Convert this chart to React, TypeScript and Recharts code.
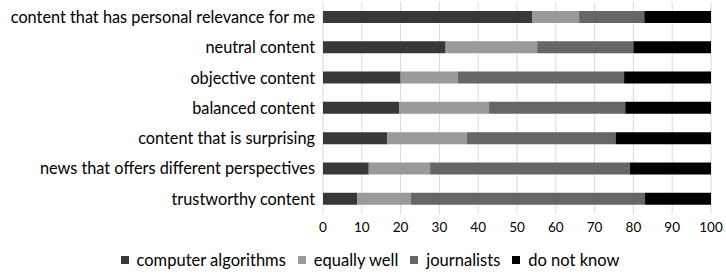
import { BarChart, Bar, XAxis, YAxis, CartesianGrid, Legend } from 'recharts';

const categories = [
  'content that has personal relevance for me',
  'neutral content',
  'objective content',
  'balanced content',
  'content that is surprising',
  'news that offers different perspectives',
  'trustworthy content',
];

const computerAlgorithms = [54, 31.6, 20, 19.6, 16.6, 11.8, 8.8];
const equallyWell = [12, 23.6, 14.7, 23.2, 20.5, 15.8, 13.9];
const journalists = [16.8, 24.8, 42.9, 35.1, 38.3, 51.5, 60.3];
const doNotKnow = [17.2, 20, 22.4, 22.1, 24.6, 20.9, 17];

const xTicks = [0, 10, 20, 30, 40, 50, 60, 70, 80, 90, 100];

const data = categories.map((name, i) => ({
  name,
  computer: computerAlgorithms[i],
  equally: equallyWell[i],
  journalists: journalists[i],
  unknown: doNotKnow[i],
}));

const series = [
  { key: 'computer', label: 'computer algorithms', color: '#383838' },
  { key: 'equally', label: 'equally well', color: '#9a9a9a' },
  { key: 'journalists', label: 'journalists', color: '#666666' },
  { key: 'unknown', label: 'do not know', color: '#000000' },
];

const font = 'Lato, sans-serif';

const renderLegend = () => (
  <div style={{ display: 'flex', justifyContent: 'center', fontFamily: font, fontSize: 16.5, color: '#000', lineHeight: '30px', paddingLeft: 14 }}>
    {series.map((s, i) => (
      <span key={s.key} style={{ display: 'inline-flex', alignItems: 'center', marginRight: i < series.length - 1 ? 12 : 0 }}>
        <span style={{ display: 'inline-block', width: 8, height: 8, background: s.color, marginRight: 8 }} />
        {s.label}
      </span>
    ))}
  </div>
);

export default function App() {
  return (
    <div style={{ position: 'absolute', left: 0, top: 0, background: '#fff' }}>
      <BarChart
        width={726}
        height={275}
        data={data}
        layout="vertical"
        margin={{ top: 2, right: 15, left: 0, bottom: 0 }}
        barSize={12}
      >
        <CartesianGrid horizontal={false} stroke="#d9d9d9" />
        <XAxis
          type="number"
          domain={[0, 100]}
          ticks={xTicks}
          interval={0}
          axisLine={false}
          tickLine={false}
          height={31}
          tick={{ fill: '#000', fontSize: 13.5, fontFamily: font }}
        />
        <YAxis
          type="category"
          dataKey="name"
          width={323}
          axisLine={false}
          tickLine={false}
          interval={0}
          tick={{ fill: '#000', fontSize: 16.3, fontFamily: font }}
        />
        <Legend
          verticalAlign="bottom"
          height={30}
          content={renderLegend}
          wrapperStyle={{ left: 0, width: 726, bottom: 0 }}
        />
        {series.map((s) => (
          <Bar key={s.key} dataKey={s.key} stackId="a" fill={s.color} name={s.label} isAnimationActive={false} />
        ))}
      </BarChart>
    </div>
  );
}
